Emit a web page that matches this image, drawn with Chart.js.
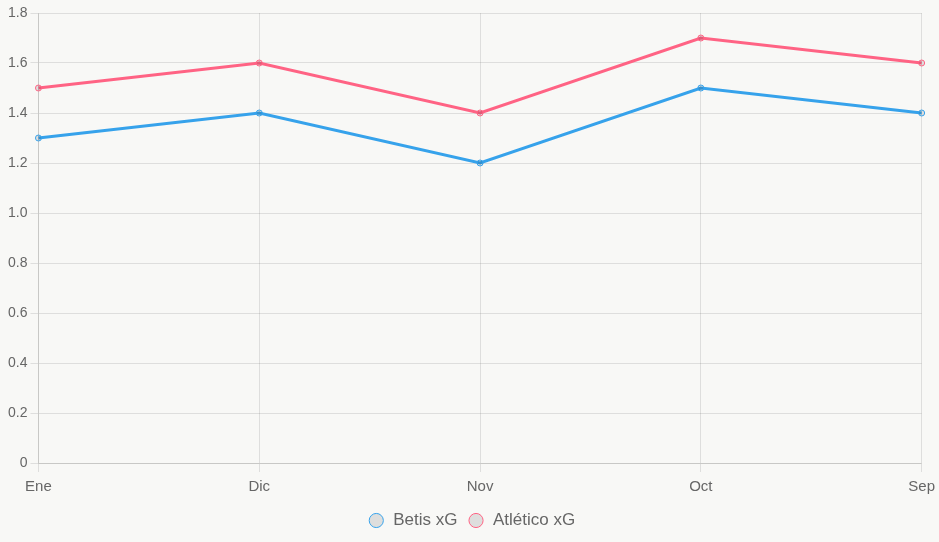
<!DOCTYPE html>
<html>
<head>
<meta charset="utf-8">
<script src="https://cdn.jsdelivr.net/npm/chart.js@4"></script>
<style>
  html, body { margin: 0; padding: 0; background: #f8f8f6; }
  #wrap { width: 939px; height: 542px; }
</style>
</head>
<body>
<div id="wrap"><canvas id="chart"></canvas></div>
<script>
const months = ["Ene", "Dic", "Nov", "Oct", "Sep"];
const betisXG = [1.3, 1.4, 1.2, 1.5, 1.4];
const atleticoXG = [1.5, 1.6, 1.4, 1.7, 1.6];

Chart.defaults.font.family = "'Liberation Sans', Arial, Helvetica, sans-serif";
Chart.defaults.color = "#666";

function lineDataset(label, data, color) {
    return {
        label,
        data,
        borderColor: color,
        backgroundColor: "rgba(0,0,0,0.1)",
        borderWidth: 3,
        pointRadius: 3,
        pointBorderWidth: 1,
        tension: 0,
    };
}

new Chart(document.getElementById("chart").getContext("2d"), {
    type: "line",
    data: {
        labels: months,
        datasets: [
            lineDataset("Betis xG", betisXG, "#36A2EB"),
            lineDataset("Atlético xG", atleticoXG, "#FF6384"),
        ],
    },
    options: {
        responsive: true,
        maintainAspectRatio: false,
        animation: false,
        layout: { padding: { right: 1, top: 13, bottom: 3, left: 5 } },
        scales: {
            x: {
                grid: { color: "rgba(0,0,0,0.1)", tickLength: 9 },
                ticks: { font: { size: 15, lineHeight: "22px" }, padding: 4 },
            },
            y: {
                min: 0,
                max: 1.8,
                ticks: { stepSize: 0.2, font: { size: 14 } },
                grid: { color: "rgba(0,0,0,0.1)" },
            },
        },
        plugins: {
            legend: {
                position: "bottom",
                labels: {
                    usePointStyle: true,
                    boxWidth: 21,
                    boxHeight: 10,
                    padding: 10,
                    font: { size: 17 },
                },
            },
        },
    },
});
</script>
</body>
</html>
